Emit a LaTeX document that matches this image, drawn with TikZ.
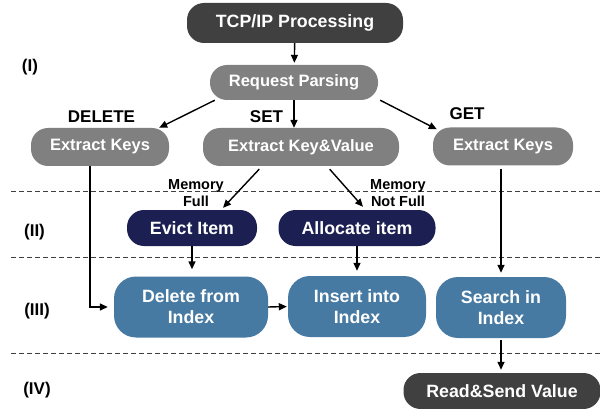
\documentclass[tikz,border=0pt]{standalone}
\usepackage{fontspec}
\setmainfont{Liberation Sans}
\usetikzlibrary{arrows.meta, positioning}
\definecolor{procdark}{RGB}{64,64,64}
\definecolor{procgray}{RGB}{128,128,128}
\definecolor{procnavy}{RGB}{27,31,82}
\definecolor{procblue}{RGB}{70,122,163}

\begin{document}
\begin{tikzpicture}[
x=1pt, y=-1pt,
box/.style={rounded corners=17pt, inner sep=0pt, align=center, text=white, font=\bfseries\fontsize{17.8}{21}\selectfont},
darkbox/.style={box, fill=procdark, minimum height=38pt},
graybox/.style={box, fill=procgray, minimum height=38pt, font=\bfseries\fontsize{16.5}{20}\selectfont},
navybox/.style={box, fill=procnavy, minimum height=36pt},
bluebox/.style={box, fill=procblue, minimum height=61pt, rounded corners=22pt},
lbl/.style={inner sep=0pt, font=\bfseries\fontsize{17}{20}\selectfont},
memlbl/.style={inner sep=0pt, align=center, font=\bfseries\fontsize{14.5}{17}\selectfont},
arrow/.style={-{Triangle[length=8pt, width=7pt]}, line width=1.4pt},
layer/.style={dash pattern=on 5pt off 3pt, line width=1pt, draw=black!75}
]
\useasboundingbox (0,0) rectangle (600,409);

\draw[layer] (11,192) -- (600,192);
\draw[layer] (11,257) -- (600,257);
\draw[layer] (11,353) -- (600,353);

\node[darkbox, minimum width=216pt, minimum height=40pt] (tcp) at (295,23) {TCP/IP Processing};
\node[graybox, minimum width=168pt, minimum height=35pt] (parse) at (294,82.5) {Request Parsing};
\node[graybox, minimum width=138pt] (delkeys) at (100,147) {Extract Keys};
\node[graybox, minimum width=196pt] (setkv) at (301,147) {Extract Key\&Value};
\node[graybox, minimum width=140pt] (getkeys) at (503,146.5) {Extract Keys};
\node[navybox, minimum width=130pt] (evict) at (192,228) {Evict Item};
\node[navybox, minimum width=157pt] (alloc) at (357,228) {Allocate item};
\node[bluebox, minimum width=154pt] (delidx) at (191,307) {Delete from\\Index};
\node[bluebox, minimum width=138pt] (insidx) at (357,306.5) {Insert into\\Index};
\node[bluebox, minimum width=130pt] (srchidx) at (501,307.5) {Search in\\Index};
\node[darkbox, minimum width=197pt, minimum height=36pt] (read) at (502,391) {Read\&Send Value};

\node[lbl] (deltag) at (101.5,117) {DELETE};
\node[lbl] (settag) at (266.5,117) {SET};
\node[lbl] (gettag) at (467,114) {GET};
\node[memlbl] (memfull) at (196,193) {Memory\\Full};
\node[memlbl] (memfree) at (398,193) {Memory\\Not Full};

\node[lbl] (stage1) at (30,67) {(I)};
\node[lbl] (stage2) at (34.5,232.5) {(II)};
\node[lbl] (stage3) at (37,311.5) {(III)};
\node[lbl] (stage4) at (37,390) {(IV)};

\draw[arrow, shorten >=2pt] (tcp) -- (parse);
\draw[arrow] ([xshift=5pt]parse.south west) -- ([xshift=-10pt]delkeys.north east);
\draw[arrow] (parse.south) -- (parse.south |- setkv.north);
\draw[arrow] ([xshift=2pt]parse.south east) -- ([xshift=4pt,yshift=-2pt]getkeys.north west);
\draw[arrow, shorten <=4pt] ([xshift=-39pt]setkv.south) -- ([xshift=31pt,yshift=2pt]evict.north);
\draw[arrow, shorten <=4pt] ([xshift=26pt]setkv.south) -- ([xshift=6pt,yshift=3pt]alloc.north);
\draw[arrow, shorten >=7pt] (evict.south) -- (evict.south |- delidx.north);
\draw[arrow, shorten >=5pt] (alloc.south) -- (alloc.south |- insidx.north);
\draw[arrow, shorten >=6pt] ([xshift=-10pt]delkeys.south) |- (delidx.west);
\draw[arrow, shorten >=1pt] (delidx.east) -- (insidx.west);
\draw[arrow, shorten <=3pt, shorten >=4pt] (srchidx.north |- getkeys.south) -- (srchidx.north);
\draw[arrow, shorten <=2pt, shorten >=3pt] (srchidx.south) -- (srchidx.south |- read.north);
\end{tikzpicture}
\end{document}
